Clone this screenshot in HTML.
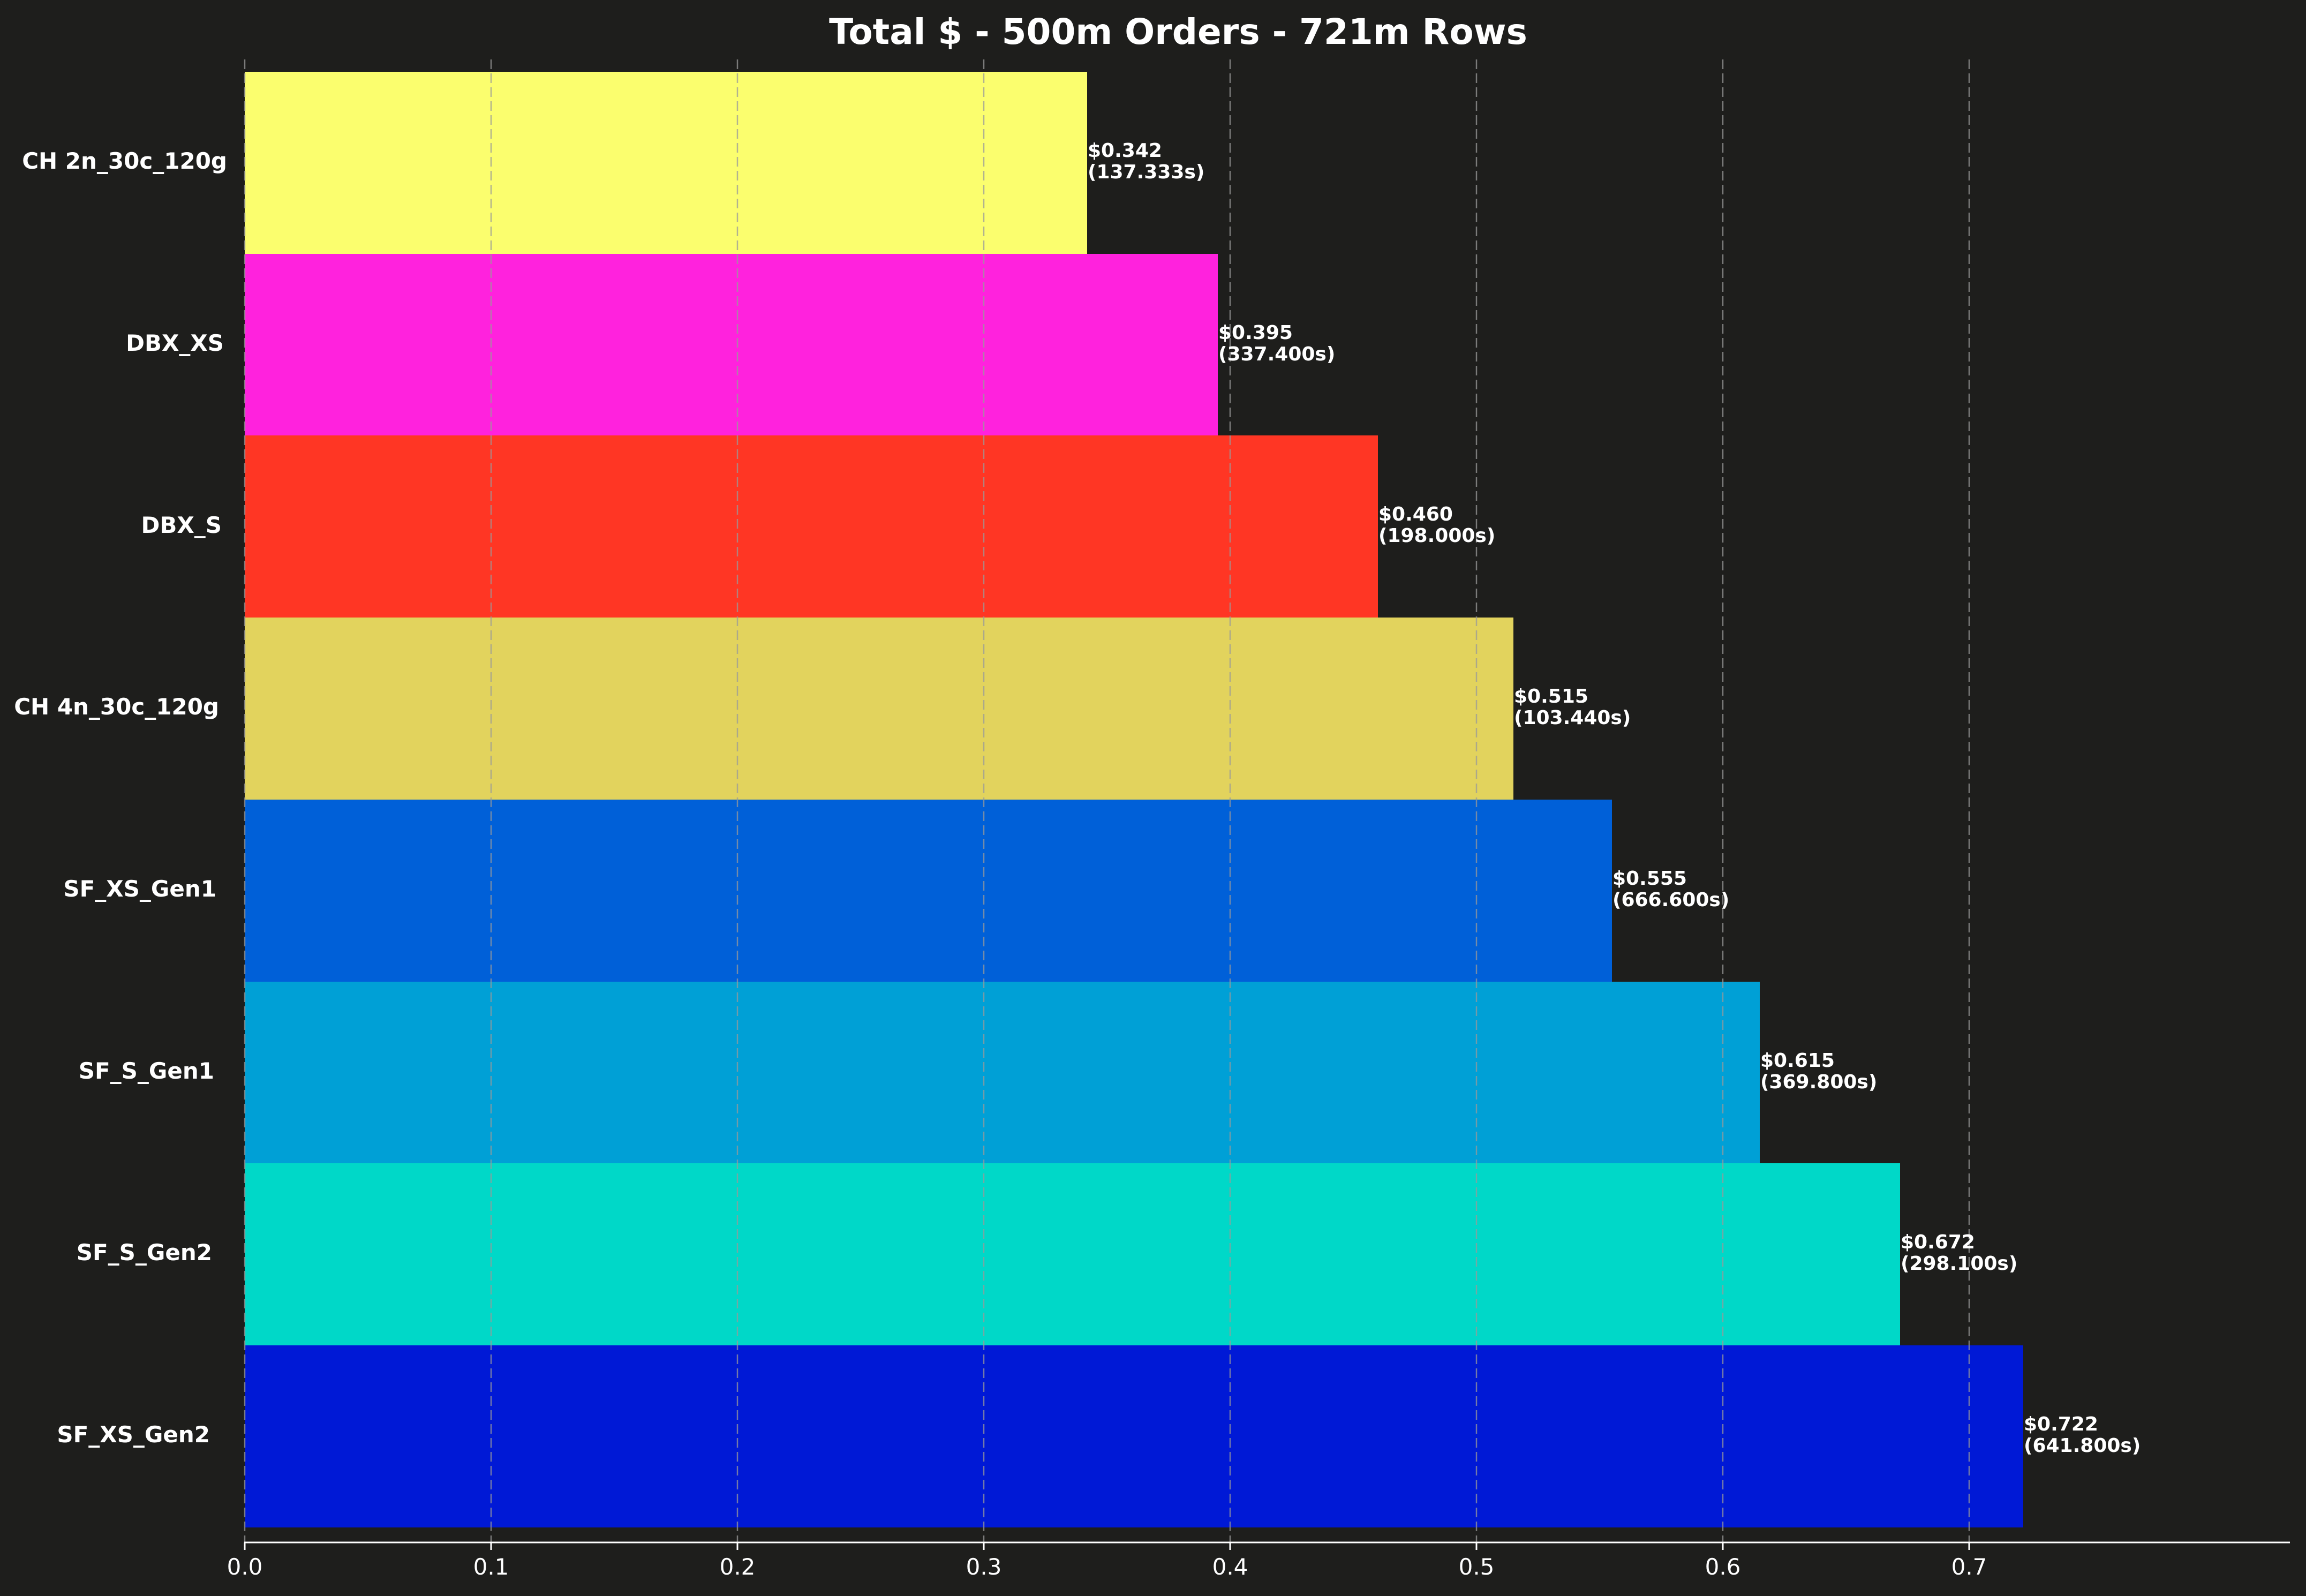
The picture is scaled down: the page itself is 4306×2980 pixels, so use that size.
<!DOCTYPE html>
<html><head><meta charset="utf-8"><style>
html,body{margin:0;padding:0;background:#1e1e1c;}
svg{display:block;}
text{font-family:"DejaVu Sans","Liberation Sans",sans-serif;fill:#fff;}
</style></head><body>
<svg width="4306" height="2980" viewBox="0 0 4306 2980" xmlns="http://www.w3.org/2000/svg">
<rect width="4306" height="2980" fill="#1e1e1c"/>
<text x="2200" y="82" font-size="66" font-weight="bold" text-anchor="middle">Total $ - 500m Orders - 721m Rows</text>
<g>
<rect x="457" y="134" width="1573" height="340" fill="#fbfe6e"/>
<rect x="457" y="474" width="1817" height="340" fill="#ff22dd"/>
<rect x="457" y="813" width="2116" height="340" fill="#ff3624"/>
<rect x="457" y="1153" width="2369" height="340" fill="#e2d35d"/>
<rect x="457" y="1493" width="2553" height="340" fill="#0060d8"/>
<rect x="457" y="1833" width="2829" height="340" fill="#00a0d6"/>
<rect x="457" y="2172" width="3091" height="340" fill="#00d8c8"/>
<rect x="457" y="2512" width="3321" height="340" fill="#0019d6"/>
</g>
<g stroke="#9a9a9a" stroke-width="2.5" stroke-dasharray="18,8" opacity="0.75">
<line x1="457" y1="111" x2="457" y2="2880"/>
<line x1="917" y1="111" x2="917" y2="2880"/>
<line x1="1377" y1="111" x2="1377" y2="2880"/>
<line x1="1837" y1="111" x2="1837" y2="2880"/>
<line x1="2297" y1="111" x2="2297" y2="2880"/>
<line x1="2757" y1="111" x2="2757" y2="2880"/>
<line x1="3217" y1="111" x2="3217" y2="2880"/>
<line x1="3677" y1="111" x2="3677" y2="2880"/>
</g>
<line x1="456" y1="2880" x2="4276" y2="2880" stroke="#fff" stroke-width="3"/>
<g stroke="#fff" stroke-width="3">
<line x1="457" y1="2880" x2="457" y2="2894"/>
<line x1="917" y1="2880" x2="917" y2="2894"/>
<line x1="1377" y1="2880" x2="1377" y2="2894"/>
<line x1="1837" y1="2880" x2="1837" y2="2894"/>
<line x1="2297" y1="2880" x2="2297" y2="2894"/>
<line x1="2757" y1="2880" x2="2757" y2="2894"/>
<line x1="3217" y1="2880" x2="3217" y2="2894"/>
<line x1="3677" y1="2880" x2="3677" y2="2894"/>
</g>
<g font-size="42" text-anchor="middle">
<text x="457" y="2940">0.0</text>
<text x="917" y="2940">0.1</text>
<text x="1377" y="2940">0.2</text>
<text x="1837" y="2940">0.3</text>
<text x="2297" y="2940">0.4</text>
<text x="2757" y="2940">0.5</text>
<text x="3217" y="2940">0.6</text>
<text x="3677" y="2940">0.7</text>
</g>
<g font-size="42" font-weight="bold" text-anchor="end">
<text x="424" y="315">CH 2n_30c_120g</text>
<text x="418" y="655">DBX_XS</text>
<text x="414" y="995">DBX_S</text>
<text x="409" y="1334">CH 4n_30c_120g</text>
<text x="404" y="1674">SF_XS_Gen1</text>
<text x="400" y="2014">SF_S_Gen1</text>
<text x="396" y="2353">SF_S_Gen2</text>
<text x="392" y="2693">SF_XS_Gen2</text>
</g>
<g font-size="36" font-weight="bold">
<text x="2031" y="293">$0.342</text><text x="2031" y="333">(137.333s)</text>
<text x="2275" y="633">$0.395</text><text x="2275" y="673">(337.400s)</text>
<text x="2574" y="972">$0.460</text><text x="2574" y="1012">(198.000s)</text>
<text x="2827" y="1312">$0.515</text><text x="2827" y="1352">(103.440s)</text>
<text x="3011" y="1652">$0.555</text><text x="3011" y="1692">(666.600s)</text>
<text x="3287" y="1992">$0.615</text><text x="3287" y="2032">(369.800s)</text>
<text x="3549" y="2331">$0.672</text><text x="3549" y="2371">(298.100s)</text>
<text x="3779" y="2671">$0.722</text><text x="3779" y="2711">(641.800s)</text>
</g>
</svg>
</body></html>
